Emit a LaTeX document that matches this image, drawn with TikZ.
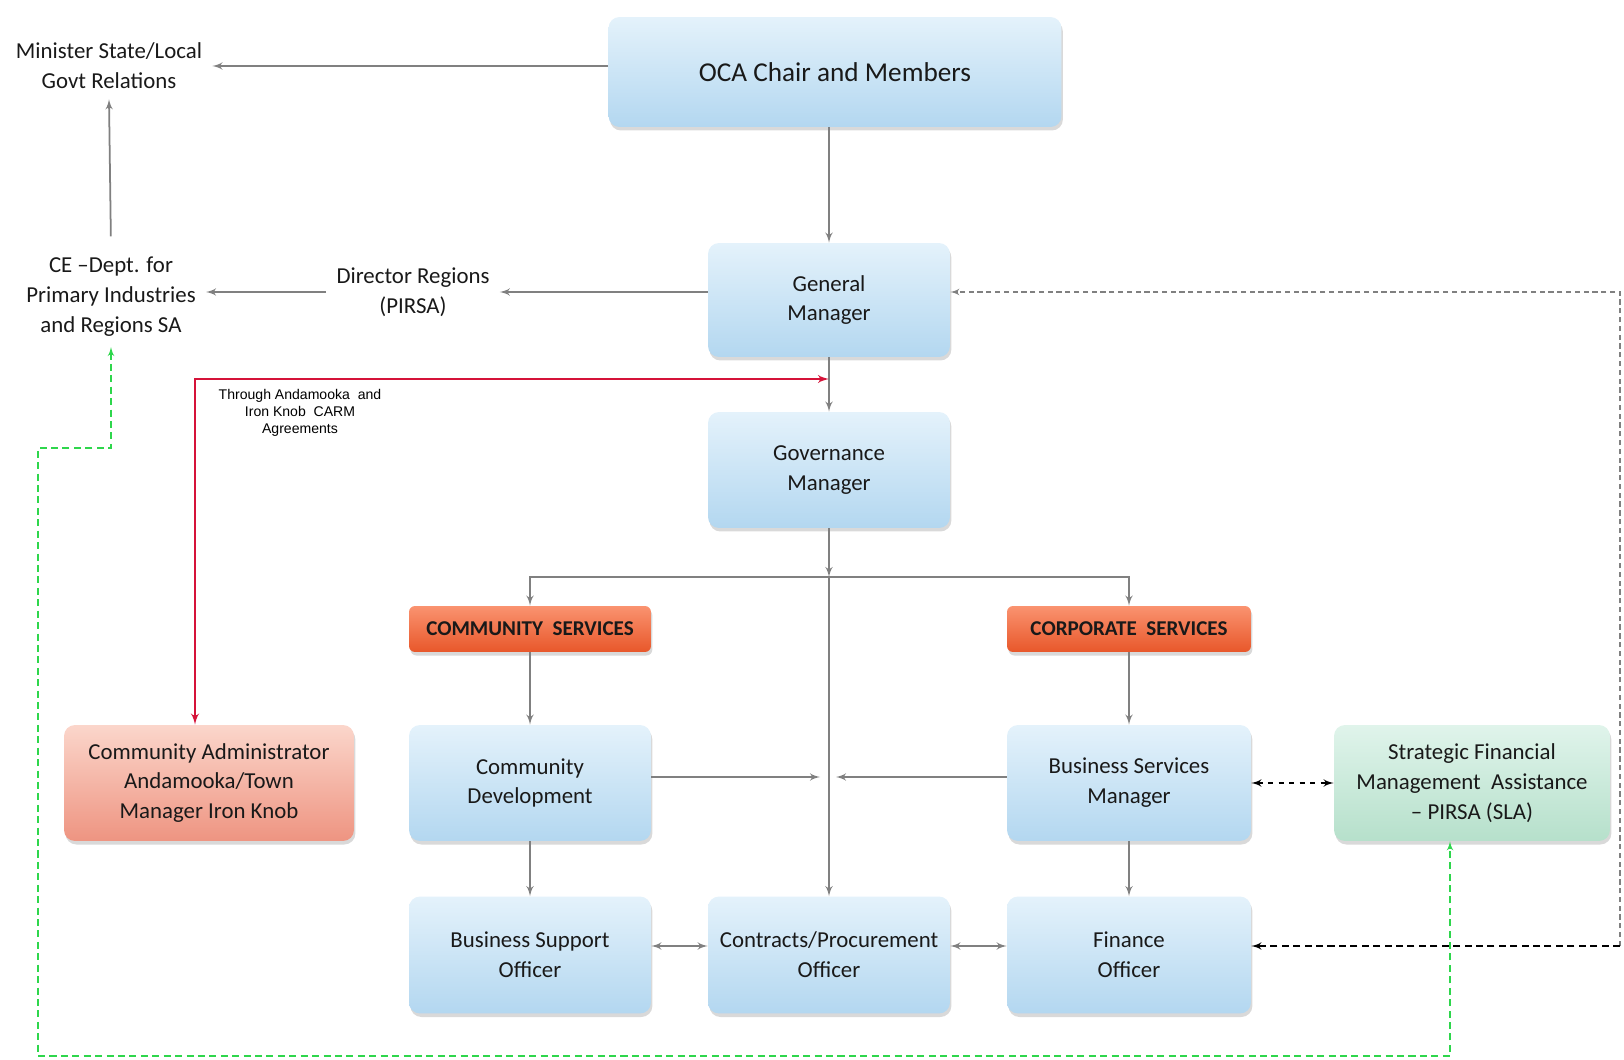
\documentclass[tikz,border=0pt]{standalone}
\usepackage{fontspec}
\setmainfont{Carlito}
\newfontfamily\smallsans{Liberation Sans}
\usepackage{xcolor}
\usepackage{tikz}
\usetikzlibrary{arrows,shadows}
\definecolor{boxtop}{HTML}{E4F2FB}
\definecolor{boxbot}{HTML}{B3D7F0}
\definecolor{orgtop}{HTML}{FA9370}
\definecolor{orgbot}{HTML}{E8572A}
\definecolor{pinktop}{HTML}{FBD6CB}
\definecolor{pinkbot}{HTML}{EE9481}
\definecolor{mintop}{HTML}{E0F4EB}
\definecolor{minbot}{HTML}{B6E0CB}
\definecolor{linegray}{HTML}{808080}
\definecolor{redline}{HTML}{D51339}
\definecolor{greenline}{HTML}{2ED64C}
\tikzset{edge/.style = {->,> = latex', draw=linegray, line width=1pt}}

\begin{document}
\begin{tikzpicture}[x=0.02cm,y=-0.02cm,
  main node/.style={rectangle,rounded corners=0.22cm,top color=boxtop,bottom color=boxbot,
    minimum width=4.84cm,minimum height=2.32cm,align=center,text=black!90,
    font=\fontsize{13}{17}\selectfont,
    drop shadow={shadow xshift=0.8pt,shadow yshift=-2pt,opacity=0.3}},
  head node/.style={main node,top color=orgtop,bottom color=orgbot,minimum height=0.92cm,
    rounded corners=0.12cm,font=\bfseries\fontsize{12}{15}\selectfont},
  plain node/.style={align=center,inner sep=0.2cm,text=black!90,font=\fontsize{13}{17}\selectfont}]
\useasboundingbox (0,0) rectangle (1624,1060);

% boxes
\node[main node,minimum width=9.06cm,minimum height=2.2cm,font=\fontsize{15.5}{18}\selectfont] (oca) at (835,72) {OCA Chair and Members};
\node[main node,minimum height=2.28cm] (gm) at (829,300) {General\\Manager};
\node[main node] (gov) at (829,470) {Governance\\Manager};
\node[head node] (cs) at (530,629) {COMMUNITY\ \ SERVICES};
\node[head node,minimum width=4.88cm] (cps) at (1129,629) {CORPORATE\ \ SERVICES};
\node[main node] (cd) at (530,783) {Community\\Development};
\node[main node,minimum width=4.88cm] (bsm) at (1129,783) {Business Services\\Manager};
\node[main node,minimum height=2.34cm] (bso) at (530,955) {Business Support\\Officer};
\node[main node,minimum height=2.34cm] (cpo) at (829,955) {Contracts/Procurement\\Officer};
\node[main node,minimum width=4.88cm,minimum height=2.34cm] (fo) at (1129,955) {Finance\\Officer};
\node[main node,top color=pinktop,bottom color=pinkbot,minimum width=5.8cm] (admin) at (209,783) {Community Administrator\\Andamooka/Town\\Manager Iron Knob};
\node[main node,top color=mintop,bottom color=minbot,minimum width=5.52cm] (sfm) at (1472,783) {Strategic Financial\\Management\ \ Assistance\\-- PIRSA (SLA)};

% plain labels
\node[plain node] (min) at (109,66) {Minister State/Local\\Govt Relations};
\node[plain node] (ce) at (111,297) {CE --Dept. for\\Primary Industries\\and Regions SA};
\node[plain node] (dir) at (413,292) {Director Regions\\(PIRSA)};
\node[align=center,font=\smallsans\fontsize{8}{9.5}\selectfont] (thru) at (300,413) {Through Andamooka\ \ and\\Iron Knob\ \ CARM\\Agreements};

\coordinate (mid) at (829,379);
\coordinate (split) at (829,577);
\coordinate (hubl) at (820,777);
\coordinate (hubr) at (836,777);
\coordinate (rbot) at (1620,946);
\coordinate (g1) at (38,448);
\coordinate (g2) at (38,1056);
\coordinate (g3) at (1450,1056);

% reporting lines
\draw[edge] (oca.west |- min.east) -- (min.east);
\draw[edge,shorten <=6pt] (ce.north) -- (min.south);
\draw[edge] (gm.west |- dir.east) -- (dir.east);
\draw[edge] (dir.west) -- (ce.east |- dir.west);
\draw[edge] (gm.north |- oca.south) -- (gm.north);
\draw[edge] (gm) -- (gov);
\draw[edge] (gov) -- (split);
\draw[edge] (split) -| (cs.north);
\draw[edge] (split) -| (cps.north);
\draw[edge] (split) -- (cpo.north);
\draw[edge] (cs) -- (cd);
\draw[edge] (cps) -- (bsm);
\draw[edge] (cd.east |- hubl) -- (hubl);
\draw[edge] (bsm.west |- hubr) -- (hubr);
\draw[edge] (cd) -- (bso);
\draw[edge] (bsm) -- (fo);
\draw[edge,<->] (bso.east |- 0,946) -- (cpo.west |- 0,946);
\draw[edge,<->] (cpo.east |- 0,946) -- (fo.west |- 0,946);

% outside links
\draw[edge,<->,draw=black,dashed,line width=1pt] (bsm) -- (sfm);
\draw[edge,draw=linegray,dash pattern=on 3pt off 2pt,line width=0.8pt] (rbot) |- (gm.east |- 0,292);
\draw[edge,draw=black,dash pattern=on 4pt off 2.5pt,line width=1pt] (rbot) -- (fo.east |- rbot);
\draw[edge,<->,draw=redline,line width=1.2pt] (mid) -| ([xshift=-0.28cm]admin.north);
\draw[edge,<->,draw=greenline,dash pattern=on 4pt off 2.5pt,line width=0.8pt] (ce.south) |- (g1) -- (g2) -- (g3) -- (g3 |- sfm.south);
\end{tikzpicture}
\end{document}
